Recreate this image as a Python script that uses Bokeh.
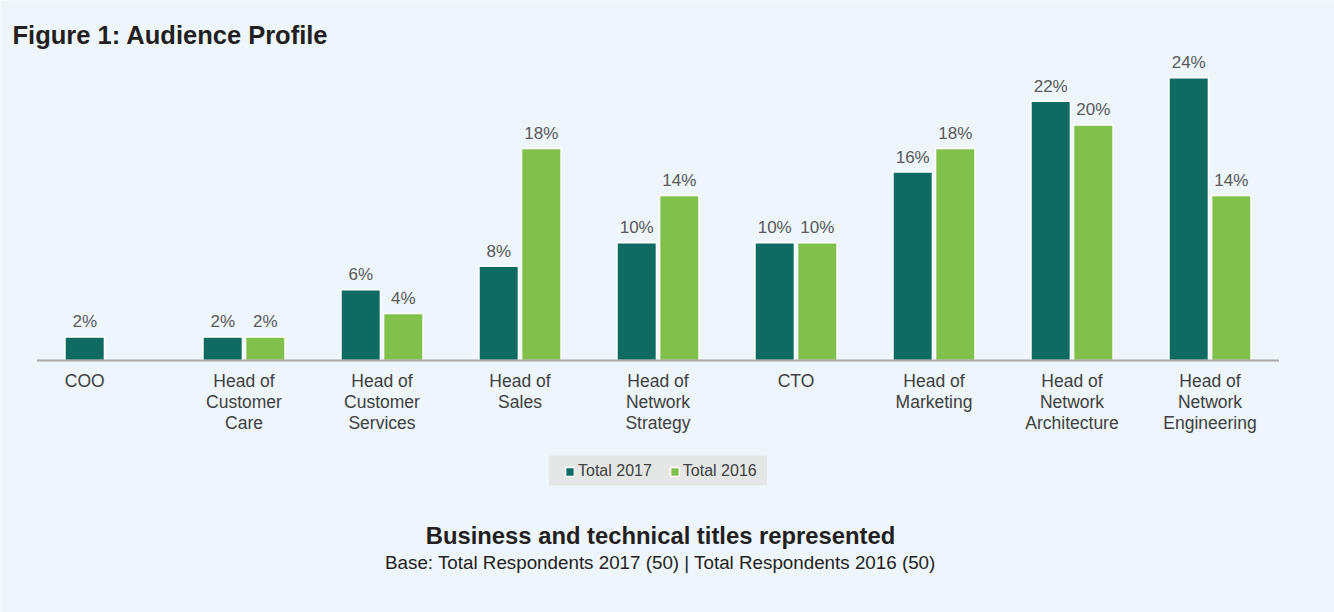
import numpy as np
from bokeh.plotting import figure
from bokeh.models import Range1d, ColumnDataSource, Label, Legend, LegendItem
from bokeh.embed import file_html
from bokeh.resources import INLINE
from bokeh.core.properties import value

# ---------------- data ----------------
categories = [
    "COO",
    "Head of\nCustomer\nCare",
    "Head of\nCustomer\nServices",
    "Head of\nSales",
    "Head of\nNetwork\nStrategy",
    "CTO",
    "Head of\nMarketing",
    "Head of\nNetwork\nArchitecture",
    "Head of\nNetwork\nEngineering",
]
total_2017 = [2, 2, 6, 8, 10, 10, 16, 22, 24]
total_2016 = [None, 2, 4, 18, 14, 10, 18, 20, 14]
series_names = ["Total 2017", "Total 2016"]
series_colors = ["#0f6b62", "#81c04b"]

title_text = "Figure 1: Audience Profile"
caption_text = "Business and technical titles represented"
base_text = "Base: Total Respondents 2017 (50) | Total Respondents 2016 (50)"

# ---------------- layout ----------------
W, H = 1334, 612
PX_PER_CAT = 138.0
CENTER0 = 105.5         # px of first group centre
PX_PER_PCT = 11.78
BASE_Y = 360.0          # px (from top) of the zero line

x_start = (0 - CENTER0) / PX_PER_CAT
x_end = (W - CENTER0) / PX_PER_CAT
y_end = BASE_Y / PX_PER_PCT
y_start = -(H - BASE_Y) / PX_PER_PCT

FONT = "Liberation Sans"
n = len(categories)
idx = np.arange(n, dtype=float)
OFF = 0.1543
BAR_W = 0.286
LBL_SHIFT = 8.5

p = figure(width=W, height=H, title=None, output_backend="svg",
           toolbar_location=None, x_axis_type=None, y_axis_type=None,
           x_range=Range1d(x_start, x_end), y_range=Range1d(y_start, y_end),
           min_border=0, outline_line_color=None,
           background_fill_color="#eef5fb", border_fill_color="#eef5fb")
p.grid.visible = False

renderers = []
label_xs = [[] for _ in range(n)]
for s, (vals, color, off) in enumerate(zip([total_2017, total_2016], series_colors, [-OFF, OFF])):
    xs, tops, texts = [], [], []
    for i, v in enumerate(vals):
        if v is None:
            continue
        xs.append(idx[i] + off)
        tops.append(v)
        texts.append(f"{v}%")
        label_xs[i].append(idx[i] + off)
    src = ColumnDataSource(dict(x=xs, top=tops, text=texts))
    r = p.vbar(x="x", top="top", width=BAR_W, bottom=0, source=src,
               fill_color=color, line_color="white", line_width=1.5)
    renderers.append(r)
    p.text(x="x", y="top", text="text", source=src, y_offset=-15,
           text_align="center", text_baseline="alphabetic",
           text_font=value(FONT), text_font_size=value("17px"),
           text_color="#595959")

# zero line
p.segment(x0=[-0.5], x1=[n - 0.5], y0=[0], y1=[0], line_color="#a8a8a8", line_width=2)

# category labels (centred under the bars that are present)
cat_x = [float(np.mean(l)) if len(l) < 2 else float(idx[i]) for i, l in enumerate(label_xs)]
p.text(x=cat_x, y=[0] * n, text=categories, y_offset=10,
       text_align="center", text_baseline="top", text_line_height=1.05,
       text_font=value(FONT), text_font_size=value("17.5px"), text_color="#404040")

# legend background
leg_cx = (n - 1) / 2
leg_cy = -(470 - BASE_Y) / PX_PER_PCT
p.rect(x=[leg_cx], y=[leg_cy], width=218, height=30, width_units="screen",
       height_units="screen", fill_color="#e5e7e7", line_color=None)

legend = Legend(items=[LegendItem(label=nm, renderers=[r]) for nm, r in zip(series_names, renderers)],
                orientation="horizontal", location=(564, 132),
                background_fill_alpha=0, border_line_alpha=0, padding=0, margin=0,
                spacing=17, label_standoff=3, glyph_width=11, glyph_height=11,
                label_height=11, label_text_font=FONT, label_text_font_size="16px",
                label_text_color="#404040")
p.add_layout(legend)

# titles
p.add_layout(Label(x=12, y=H - 43.3 + LBL_SHIFT, x_units="screen", y_units="screen", text=title_text,
                   text_font=FONT, text_font_size="25.5px", text_font_style="bold",
                   text_color="#231f20", text_baseline="alphabetic"))
p.add_layout(Label(x=660, y=H - 543.3 + LBL_SHIFT, x_units="screen", y_units="screen", text=caption_text,
                   text_font=FONT, text_font_size="23.8px", text_font_style="bold",
                   text_color="#231f20", text_align="center", text_baseline="alphabetic"))
p.add_layout(Label(x=660, y=H - 570 + LBL_SHIFT, x_units="screen", y_units="screen", text=base_text,
                   text_font=FONT, text_font_size="18.8px",
                   text_color="#231f20", text_align="center", text_baseline="alphabetic"))

open("out.html", "w").write(file_html(p, INLINE))
